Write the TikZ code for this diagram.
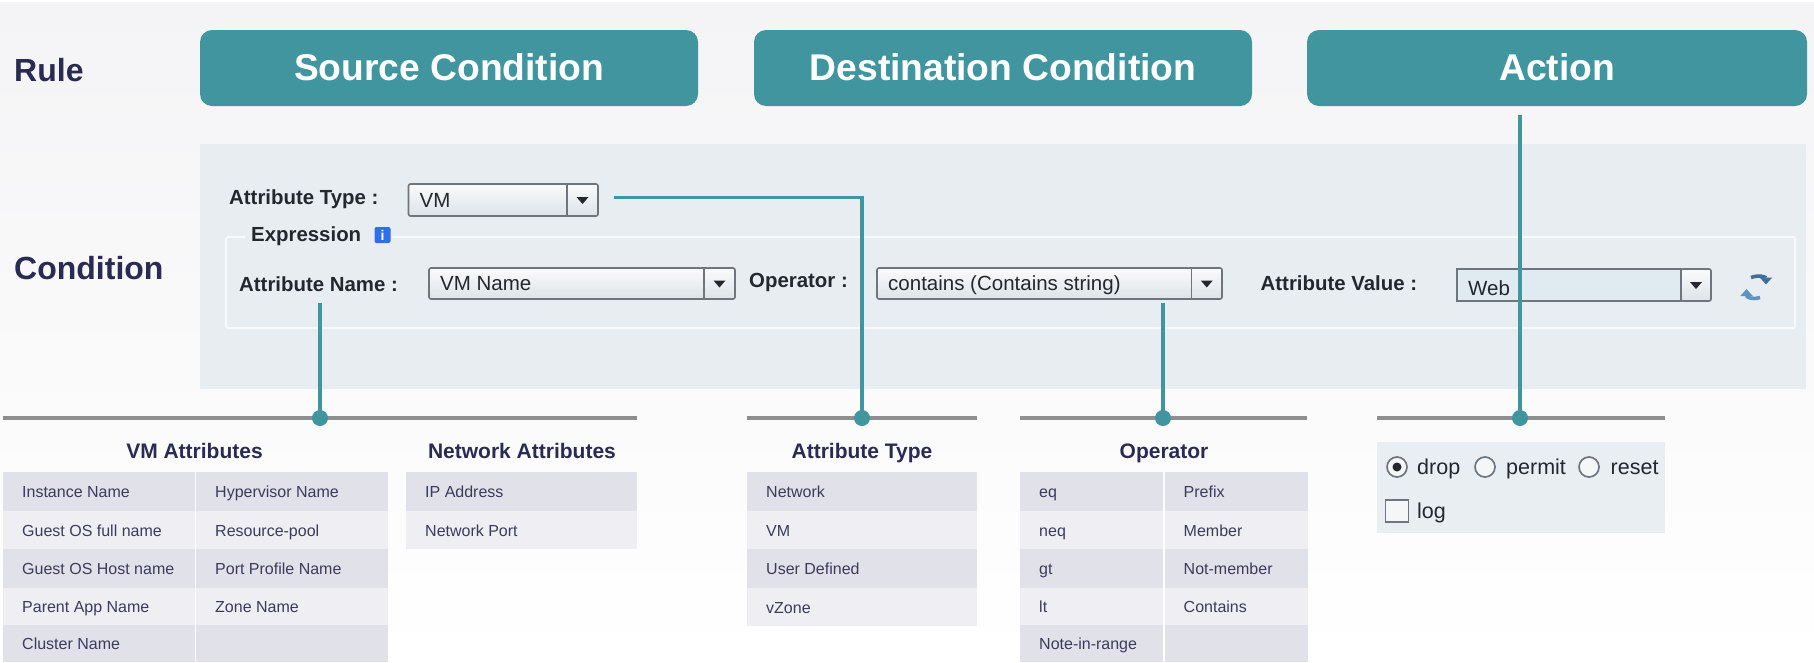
\documentclass[tikz,border=0pt]{standalone}
\usepackage{fontspec}
\setmainfont{Liberation Sans}
\usetikzlibrary{arrows.meta}
\definecolor{teal}{HTML}{40959F}
\definecolor{ink}{HTML}{2A2B52}
\definecolor{rowa}{HTML}{E0E1E9}
\definecolor{rowb}{HTML}{EEEEF3}
\definecolor{panel}{HTML}{E8EDF1}
\definecolor{uiink}{HTML}{23282E}
\definecolor{rule}{HTML}{8F8F8F}
\definecolor{cellink}{HTML}{3B3C5C}
\definecolor{combob}{HTML}{DDE3E8}
\definecolor{combot}{HTML}{FAFBFC}
\definecolor{webb}{HTML}{DFEAF1}
\definecolor{edge}{HTML}{6F757C}
\definecolor{frame}{HTML}{F7F9FA}
\definecolor{info}{HTML}{2F6FEF}
\definecolor{refresh}{HTML}{5C93C4}
\definecolor{refreshd}{HTML}{3F6F96}
\definecolor{actionbg}{HTML}{E9EEF3}
\definecolor{bgtop}{HTML}{F4F4F6}
\definecolor{boxfill}{HTML}{F4F6F8}
\newcommand{\fsz}[1]{\fontsize{#1}{#1}\selectfont}
\tikzset{
  header/.style={fill=teal,rounded corners=12pt,text=white,font=\fsz{37.2}\bfseries,inner sep=0pt},
  rowlabel/.style={anchor=base west,text=ink,font=\fsz{32}\bfseries,inner sep=0pt},
  uilabel/.style={anchor=base west,text=uiink,font=\fsz{20.4}\bfseries,inner sep=0pt},
  uitext/.style={anchor=base west,text=uiink,font=\fsz{20.5},inner sep=0pt},
  actiontext/.style={anchor=base west,text=uiink,font=\fsz{21.5},inner sep=0pt},
  heading/.style={anchor=base,text=ink,font=\fsz{21}\bfseries,inner sep=0pt},
  celltext/.style={anchor=base west,text=cellink,font=\fsz{16},inner sep=0pt},
  conn/.style={draw=teal,line width=3.2pt},
  tickrule/.style={draw=rule,line width=3.2pt},
  dot/.style={circle,fill=teal,minimum size=16pt,inner sep=0pt},
  radio/.style={circle,draw=edge,line width=1.7pt,fill=boxfill,minimum size=20pt,inner sep=0pt},
}
% \cell{name}{x1}{y1}{x2}{y2}{fill}{text}
\newcommand{\cell}[7]{%
  \fill[#6] (#2,#3) rectangle (#4,#5);
  \node[celltext] (#1) at ({#2+19},{(#3+#5)/2+6.3}) {#7};}
% \combo{name}{x1}{y1}{x2}{y2}{divider}{text}{bottom colour}
\newcommand{\combo}[8]{%
  \shade[top color=combot,bottom color=#8,draw=edge,line width=1.6pt,rounded corners=2pt] (#2,#3) rectangle (#4,#5);
  \draw[edge,line width=1.2pt] (#6,#3) -- (#6,#5);
  \fill[uiink] ({(#6+#4)/2-6},{(#3+#5)/2-3}) -- ({(#6+#4)/2+6},{(#3+#5)/2-3}) -- ({(#6+#4)/2},{(#3+#5)/2+4}) -- cycle;
  \node[uitext] (#1) at ({#2+11},{(#3+#5)/2+7}) {#7};}
\begin{document}
\begin{tikzpicture}[x=1pt,y=-1pt]
\useasboundingbox (0,0) rectangle (1814,662);
\fill[white] (0,0) rectangle (1814,662);
\shade[top color=bgtop,bottom color=white] (0,2) rectangle (1814,662);
% row titles
\node[rowlabel] (rule) at (14,81) {Rule};
\node[rowlabel] (cond) at (14,279) {Condition};
% headers
\node[header,minimum width=498pt,minimum height=76pt] (src) at (449,68) {\raisebox{2.3pt}{Source Condition}};
\node[header,minimum width=498pt,minimum height=76pt] (dst) at (1003,68) {\raisebox{2.3pt}{Destination Condition}};
\node[header,minimum width=500pt,minimum height=76pt] (act) at (1557,68) {\raisebox{2.3pt}{Action}};
% panel
\fill[panel] (200,144) rectangle (1806,389);
\draw[frame,line width=2pt,rounded corners=1.5pt] (245,237) -- (226,237) -- (226,328) -- (1795,328) -- (1795,237) -- (392,237);
\node[uilabel] (lblType) at (229,204) {Attribute Type :};
\combo{cbType}{408.5}{184}{598}{216}{567}{VM}{combob}
\node[uilabel] (lblExpr) at (251,241) {Expression};
\node[fill=info,rounded corners=2pt,minimum width=16pt,minimum height=16pt,inner sep=0pt,text=white,font=\fsz{14}\bfseries] (infoIcon) at (382.5,235) {i};
\node[uilabel] (lblName) at (239,291) {Attribute Name :};
\combo{cbName}{429}{268}{735}{299}{704}{VM Name}{combob}
\node[uilabel] (lblOp) at (749,287.5) {Operator :};
\combo{cbOp}{877}{268}{1222}{299}{1191.5}{contains (Contains string)}{combob}
\node[uilabel] (lblVal) at (1260.5,290) {Attribute Value :};
\shade[top color=webb,bottom color=webb,draw=edge,line width=1.6pt] (1457,269) rectangle (1681,301);
\shade[top color=combot,bottom color=combob,draw=edge,line width=1.6pt,rounded corners=2pt] (1681,269) rectangle (1711,301);
\fill[uiink] (1690,282) -- (1702,282) -- (1696,289) -- cycle;
\node[uitext] (cbVal) at (1468,295) {Web};
% refresh icon
\draw[refreshd,line width=3.6pt,-{Triangle[length=7pt,width=12pt]}] (1751,277.5) .. controls (1759,274.5) and (1766,277) .. (1766,284.5);
\draw[refresh,line width=3.6pt,-{Triangle[length=7pt,width=12pt]}] (1760,297.5) .. controls (1752,300) and (1746.5,297) .. (1746.5,289);
% rules
\coordinate (r1a) at (3,418); \coordinate (r1b) at (637,418);
\coordinate (r2a) at (747,418); \coordinate (r2b) at (977,418);
\coordinate (r3a) at (1020,418); \coordinate (r3b) at (1307,418);
\coordinate (r4a) at (1377,418); \coordinate (r4b) at (1665,418);
\draw[tickrule] (r1a) -- (r1b);
\draw[tickrule] (r2a) -- (r2b);
\draw[tickrule] (r3a) -- (r3b);
\draw[tickrule] (r4a) -- (r4b);
% connectors
\coordinate (c1) at (320,303);
\coordinate (c2) at (613.5,197.5);
\coordinate (c3) at (1163,303);
\coordinate (c4) at (1520,115);
\node[dot] (d1) at (320,418) {};
\node[dot] (d2) at (862,418) {};
\node[dot] (d3) at (1163,418) {};
\node[dot] (d4) at (1520,418) {};
\draw[conn] (c1) -- (d1.center);
\draw[conn] (c2) -| (d2.center);
\draw[conn] (c3) -- (d3.center);
\draw[conn] (c4) -- (d4.center);
% headings
\node[heading] (hVM) at (194.5,458) {VM Attributes};
\node[heading] (hNet) at (522,458) {Network Attributes};
\node[heading] (hType) at (862,458) {Attribute Type};
\node[heading] (hOp) at (1164,458) {Operator};
% VM attributes
\cell{a1}{3}{472}{194.5}{511}{rowa}{Instance Name}
\cell{a2}{3}{511}{194.5}{549}{rowb}{Guest OS full name}
\cell{a3}{3}{549}{194.5}{588}{rowa}{Guest OS Host name}
\cell{a4}{3}{588}{194.5}{625}{rowb}{Parent App Name}
\cell{a5}{3}{625}{194.5}{662}{rowa}{Cluster Name}
\cell{b1}{196}{472}{388}{511}{rowa}{Hypervisor Name}
\cell{b2}{196}{511}{388}{549}{rowb}{Resource-pool}
\cell{b3}{196}{549}{388}{588}{rowa}{Port Profile Name}
\cell{b4}{196}{588}{388}{625}{rowb}{Zone Name}
\cell{b5}{196}{625}{388}{662}{rowa}{}
% Network attributes
\cell{n1}{406}{472}{637}{511}{rowa}{IP Address}
\cell{n2}{406}{511}{637}{549}{rowb}{Network Port}
% Attribute type
\cell{t1}{747}{472}{977}{511}{rowa}{Network}
\cell{t2}{747}{511}{977}{549}{rowb}{VM}
\cell{t3}{747}{549}{977}{588}{rowa}{User Defined}
\cell{t4}{747}{588}{977}{626}{rowb}{vZone}
% Operator
\cell{o1}{1020}{472}{1163}{511}{rowa}{eq}
\cell{o2}{1020}{511}{1163}{549}{rowb}{neq}
\cell{o3}{1020}{549}{1163}{588}{rowa}{gt}
\cell{o4}{1020}{588}{1163}{625}{rowb}{lt}
\cell{o5}{1020}{625}{1163}{662}{rowa}{Note-in-range}
\cell{p1}{1164.5}{472}{1308}{511}{rowa}{Prefix}
\cell{p2}{1164.5}{511}{1308}{549}{rowb}{Member}
\cell{p3}{1164.5}{549}{1308}{588}{rowa}{Not-member}
\cell{p4}{1164.5}{588}{1308}{625}{rowb}{Contains}
\cell{p5}{1164.5}{625}{1308}{662}{rowa}{}
% Action panel
\fill[actionbg] (1377,442) rectangle (1665,533);
\node[radio] (rDrop) at (1397,467) {};
\fill[uiink] (rDrop.center) circle (4.5pt);
\node[actiontext] (tDrop) at (1417,474) {drop};
\node[radio] (rPermit) at (1485,467) {};
\node[actiontext] (tPermit) at (1506,474) {permit};
\node[radio] (rReset) at (1589,467) {};
\node[actiontext] (tReset) at (1610.5,474) {reset};
\node[draw=edge,line width=1.7pt,fill=boxfill,minimum width=23pt,minimum height=22pt,inner sep=0pt] (chk) at (1397,511) {};
\node[actiontext] (tLog) at (1417,518) {log};
\end{tikzpicture}
\end{document}
